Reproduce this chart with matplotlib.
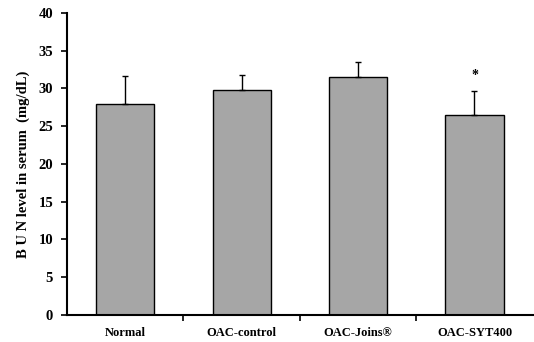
import numpy as np
import matplotlib.pyplot as plt

groups = ["Normal", "OAC-control", "OAC-Joins\u00ae", "OAC-SYT400"]
means = [27.9, 29.85, 31.5, 26.45]
errs = [3.8, 1.95, 2.05, 3.25]
star_y = 30.9

plt.rcParams['font.family'] = ['Liberation Serif', 'DejaVu Serif']
plt.rcParams['font.weight'] = 'bold'

fig = plt.figure(figsize=(5.34, 3.42), dpi=100)
ax = fig.add_axes([0.1255, 0.079, 0.872, 0.883])

x = np.arange(len(groups))
ax.bar(x, means, width=0.5, color='#a6a6a6', edgecolor='black', linewidth=1.0)
ax.errorbar(x, means, yerr=[np.zeros(len(errs)), errs], fmt='none',
            ecolor='black', elinewidth=1.0, capsize=2.5, capthick=1.0)
ax.text(x[3], star_y, '*', ha='center', va='bottom', fontsize=10)

ax.set_xlim(-0.5, len(groups) - 0.5)
ax.set_ylim(0, 40)
ax.set_yticks(range(0, 41, 5))
ax.set_xticks(x)
ax.set_xticklabels(groups, fontsize=9, fontweight='bold')
ax.set_xticks(np.arange(0.5, len(groups) - 0.5, 1), minor=True)
ax.tick_params(axis='x', which='major', length=0, pad=9)
ax.tick_params(axis='x', which='minor', length=4, width=1.2, direction='out')
ax.tick_params(axis='y', length=4, width=1.2, direction='out', labelsize=10.5, pad=6)
for lbl in ax.get_yticklabels():
    lbl.set_fontweight('bold')
ax.spines['top'].set_visible(False)
ax.spines['right'].set_visible(False)
ax.spines['left'].set_linewidth(1.5)
ax.spines['bottom'].set_linewidth(1.5)
ax.set_ylabel('B U N level in serum  (mg/dL)', fontsize=10.5, fontweight='bold', labelpad=6)

fig.savefig('out.png', dpi=100)
